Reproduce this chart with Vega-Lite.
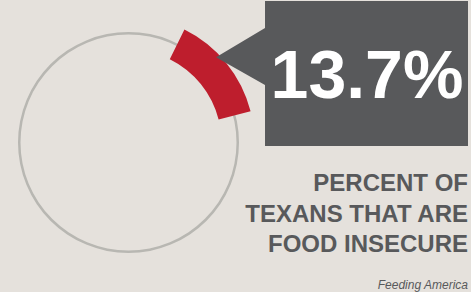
{
  "$schema": "https://vega.github.io/schema/vega-lite/v6.json",
  "width": 471,
  "height": 292,
  "autosize": {"type": "fit", "contains": "padding"},
  "padding": 0,
  "background": "#e5e1dc",
  "config": {"view": {"stroke": null}},
  "data": {
    "values": [
      {"group": "Food insecure", "share": 0.137, "rank": 1},
      {"group": "Not food insecure", "share": 0.863, "rank": 2}
    ]
  },
  "layer": [
    {
      "transform": [{"filter": "datum.rank == 1"}],
      "mark": {"type": "arc", "x": 128.5, "y": 142.5, "radius": 110.5, "radius2": 108, "theta": 0, "theta2": 6.2832, "color": "#b8b7b2"},
      "encoding": {}
    },
    {
      "mark": {"type": "arc", "x": 128.5, "y": 142.5, "radius": 126, "radius2": 93},
      "encoding": {
        "theta": {"field": "share", "type": "quantitative", "stack": true, "scale": {"range": [0.46, 6.7432]}},
        "order": {"field": "rank", "type": "quantitative"},
        "color": {"field": "group", "type": "nominal", "scale": {"domain": ["Food insecure", "Not food insecure"], "range": ["#be1e2d", "transparent"]}, "legend": null}
      }
    },
    {
      "transform": [{"filter": "datum.rank == 1"}],
      "mark": {"type": "point", "x": 342, "y": 73.5, "size": 63504, "filled": true, "opacity": 1, "strokeWidth": 0, "color": "#58595b",
        "shape": "M -0.611 -0.575 L 1 -0.575 L 1 0.575 L -0.611 0.575 L -0.611 0.091 L -1 -0.129 L -0.611 -0.361 Z"},
      "encoding": {}
    },
    {
      "transform": [{"filter": "datum.rank == 1"}],
      "mark": {"type": "text", "x": 367, "y": 98, "align": "center", "baseline": "alphabetic", "font": "Liberation Sans, Arial, sans-serif", "fontWeight": "bold", "fontSize": 68, "color": "#ffffff"},
      "encoding": {"text": {"field": "share", "type": "quantitative", "format": ".1%"}}
    },
    {
      "transform": [{"filter": "datum.rank == 1"}],
      "mark": {"type": "text", "x": 468, "y": 191, "align": "right", "baseline": "alphabetic", "lineHeight": 30.5, "font": "Liberation Sans, Arial, sans-serif", "fontWeight": "bold", "fontSize": 24, "color": "#58595b",
        "text": ["PERCENT OF", "TEXANS THAT ARE", "FOOD INSECURE"]},
      "encoding": {}
    },
    {
      "transform": [{"filter": "datum.rank == 1"}],
      "mark": {"type": "text", "x": 468, "y": 289, "align": "right", "baseline": "alphabetic", "font": "Liberation Sans, Arial, sans-serif", "fontStyle": "italic", "fontSize": 12, "color": "#58595b", "text": "Feeding America"},
      "encoding": {}
    }
  ]
}
